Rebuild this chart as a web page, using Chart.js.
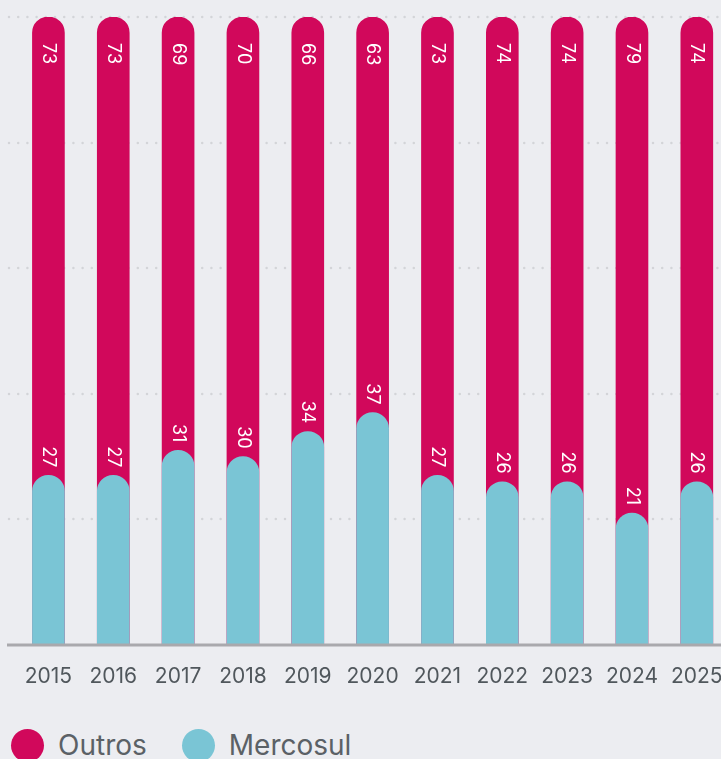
<!DOCTYPE html>
<html>
<head>
<meta charset="utf-8">
<script src="https://cdn.jsdelivr.net/npm/chart.js@4/dist/chart.umd.min.js"></script>
<style>
	body { margin: 0; background: #ECEDF1; overflow: hidden; font-family: Inter, sans-serif; }
	#wrap { position: relative; width: 742px; height: 700px; }
	#legend { position: absolute; left: 11px; top: 728px; display: flex; align-items: center; color: #5B6166; font-size: 28px; }
	.item { display: flex; align-items: center; margin-right: 35px; }
	.dot { width: 33px; height: 33px; border-radius: 50%; margin-right: 14px; }
</style>
</head>
<body>
<div id="wrap"><canvas id="c"></canvas></div>
<div id="legend"></div>
<script>
const years = ['2015', '2016', '2017', '2018', '2019', '2020', '2021', '2022', '2023', '2024', '2025'];
const outros = [73, 73, 69, 70, 66, 63, 73, 74, 74, 79, 74];
const mercosul = [27, 27, 31, 30, 34, 37, 27, 26, 26, 21, 26];
const gridValues = [20, 40, 60, 80, 100];

const PINK = '#D1085B';
const BLUE = '#7AC5D5';

// outros sits on top of mercosul, drawn from the base behind it
const totals = outros.map((v, i) => v + mercosul[i]);

const legend = document.getElementById('legend');
for (const [name, color] of [['Outros', PINK], ['Mercosul', BLUE]]) {
	const el = document.createElement('div');
	el.className = 'item';
	el.innerHTML = `<span class="dot" style="background:${color}"></span><span>${name}</span>`;
	legend.appendChild(el);
}

const gridPlugin = {
	id: 'dottedGrid',
	beforeDatasetsDraw: chart => {
		const ctx = chart.ctx;
		const y = chart.scales.y;
		ctx.save();
		ctx.strokeStyle = '#D3D4D8';
		ctx.lineWidth = 2.5;
		ctx.lineCap = 'round';
		ctx.setLineDash([0, 9.2]);
		for (const v of gridValues) {
			const py = Math.round(y.getPixelForValue(v));
			ctx.beginPath();
			ctx.moveTo(9, py);
			ctx.lineTo(chart.width, py);
			ctx.stroke();
		}
		ctx.restore();
	}
};

const labelPlugin = {
	id: 'barLabels',
	afterDatasetsDraw: chart => {
		const ctx = chart.ctx;
		const base = chart.scales.y.getPixelForValue(0);
		const mBars = chart.getDatasetMeta(0).data;
		const oBars = chart.getDatasetMeta(1).data;
		ctx.save();
		// axis line
		ctx.strokeStyle = '#A9A9AD';
		ctx.lineWidth = 3;
		ctx.beginPath();
		ctx.moveTo(7, base);
		ctx.lineTo(chart.width, base);
		ctx.stroke();

		ctx.fillStyle = '#FFFFFF';
		ctx.font = '18px Inter, sans-serif';
		ctx.textBaseline = 'middle';
		for (let i = 0; i < years.length; i++) {
			const o = oBars[i], m = mBars[i];
			ctx.save();
			ctx.translate(o.x, o.y + 26);
			ctx.rotate(Math.PI / 2);
			ctx.textAlign = 'left';
			ctx.fillText(String(outros[i]), 0, 0);
			ctx.restore();

			ctx.save();
			ctx.translate(m.x, m.y - 8);
			ctx.rotate(Math.PI / 2);
			ctx.textAlign = 'right';
			ctx.fillText(String(mercosul[i]), 0, 0);
			ctx.restore();
		}
		ctx.restore();
	}
};

new Chart(document.getElementById('c'), {
	type: 'bar',
	data: {
		labels: years,
		datasets: [
			{
				label: 'Mercosul',
				data: mercosul,
				backgroundColor: BLUE,
				borderRadius: 16,
				borderSkipped: 'start',
				barThickness: 32,
				grouped: false,
			},
			{
				label: 'Outros',
				data: totals,
				backgroundColor: PINK,
				borderRadius: 16,
				borderSkipped: 'start',
				barThickness: 32,
				grouped: false,
			},
		]
	},
	plugins: [gridPlugin, labelPlugin],
	options: {
		responsive: true,
		maintainAspectRatio: false,
		animation: false,
		layout: {
			padding: {top: 17, left: 16, right: 8, bottom: 0}
		},
		plugins: {
			legend: {display: false},
			tooltip: {enabled: false},
		},
		scales: {
			x: {
				grid: {display: false, drawTicks: false},
				border: {display: false},
				ticks: {
					color: '#50575C',
					font: {family: 'Inter, sans-serif', size: 21},
					padding: 19,
					maxRotation: 0,
					autoSkip: false,
				},
				afterFit: s => { s.height = 55; },
			},
			y: {
				display: false,
				min: 0,
				max: 100,
			}
		}
	},
});
</script>
</body>
</html>
